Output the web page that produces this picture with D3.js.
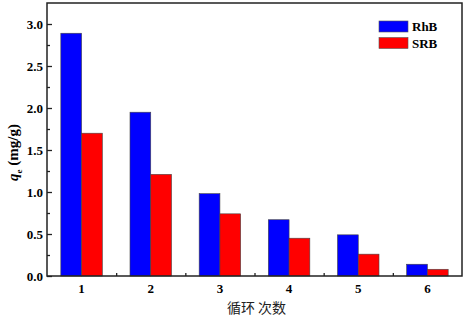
<!DOCTYPE html>
<html>
<head>
<meta charset="utf-8">
<script src="https://cdn.jsdelivr.net/npm/d3@7"></script>
<style>
  body { margin: 0; background: #fff; }
  text { font-family: "Liberation Serif", "Times New Roman", serif; }
</style>
</head>
<body>
<div id="chart"></div>
<script>
const cycles = [1, 2, 3, 4, 5, 6];
const rhb = [2.89, 1.95, 0.98, 0.67, 0.49, 0.14];
const srb = [1.70, 1.21, 0.74, 0.45, 0.26, 0.08];
const seriesNames = ['RhB', 'SRB'];
const seriesColors = ['#0000ff', '#ff0000'];
const yTicks = [0, 0.5, 1.0, 1.5, 2.0, 2.5, 3.0];

const margin = { top: 3, right: 4, bottom: 42, left: 47 };
const width = 466 - margin.left - margin.right;
const height = 318 - margin.top - margin.bottom;

const svg = d3.select('#chart')
    .append('svg')
    .attr('width', 466)
    .attr('height', 318)
    .append('g')
    .attr('transform', `translate(${margin.left},${margin.top})`);

const x = d3.scaleLinear().domain([0.5, 6.5]).range([0, width]);
const y = d3.scaleLinear().domain([0, 3.25]).range([height, 0]);

const barW = x(1.3) - x(1);
const series = [rhb, srb];

// bars
series.forEach((vals, i) => {
  svg.append('g')
    .selectAll('rect')
    .data(vals)
    .join('rect')
    .attr('x', (d, j) => x(cycles[j]) + (i - 1) * barW)
    .attr('y', d => y(d))
    .attr('width', barW)
    .attr('height', d => y(0) - y(d))
    .attr('fill', seriesColors[i])
    .attr('stroke', '#444')
    .attr('stroke-width', 0.6);
});

// axes, ticks pointing inward
const yAxis = d3.axisRight(y).tickValues(yTicks).tickSize(5).tickFormat('');
const yMinor = d3.axisRight(y).tickValues(d3.range(0.25, 3.25, 0.5)).tickSize(3).tickFormat('');
svg.append('g').attr('class', 'ax').call(yAxis);
svg.append('g').attr('class', 'ax').call(yMinor);

const xMinor = d3.axisTop(x).tickValues([1.5, 2.5, 3.5, 4.5, 5.5]).tickSize(3).tickFormat('');
svg.append('g').attr('class', 'ax').attr('transform', `translate(0,${height})`).call(xMinor);

svg.selectAll('.ax .domain').remove();
svg.selectAll('.ax line').attr('stroke', '#222').attr('stroke-width', 1.3);

// frame
svg.append('rect')
    .attr('width', width)
    .attr('height', height)
    .attr('fill', 'none')
    .attr('stroke', '#222')
    .attr('stroke-width', 1.5);

// tick labels
svg.append('g')
  .selectAll('text')
  .data(yTicks)
  .join('text')
  .attr('x', -4)
  .attr('y', d => y(d))
  .attr('dy', '0.35em')
  .attr('text-anchor', 'end')
  .attr('font-size', 13)
  .attr('font-weight', 'bold')
  .text(d => d.toFixed(1));

svg.append('g')
  .selectAll('text')
  .data(cycles)
  .join('text')
  .attr('x', d => x(d))
  .attr('y', height + 17)
  .attr('text-anchor', 'middle')
  .attr('font-size', 13)
  .attr('font-weight', 'bold')
  .text(d => d);

// axis titles
svg.append('text')
  .attr('x', x(3.5) + 2)
  .attr('y', height + 37)
  .attr('text-anchor', 'middle')
  .attr('font-size', 14)
  .style('font-family', '"Noto Sans CJK SC", sans-serif')
  .attr('fill', '#222')
  .text('循环 次数');

const yl = svg.append('text')
  .attr('transform', `translate(${-29},${y(1.47)}) rotate(-90)`)
  .attr('text-anchor', 'middle')
  .attr('font-size', 15)
  .attr('font-weight', 'bold');
yl.append('tspan').attr('font-style', 'italic').text('q');
yl.append('tspan').attr('font-size', 9).attr('dy', 4).text('e');
yl.append('tspan').attr('dy', -4).text(' (mg/g)');

// legend
const legend = svg.append('g').attr('transform', `translate(${332},${18})`);
seriesNames.forEach((name, i) => {
  legend.append('rect')
    .attr('x', 0)
    .attr('y', i * 16.5)
    .attr('width', 29)
    .attr('height', 11)
    .attr('fill', seriesColors[i])
    .attr('stroke', '#555')
    .attr('stroke-width', 0.6);
  legend.append('text')
    .attr('x', 33)
    .attr('y', i * 16.5 + 5.5)
    .attr('dy', '0.35em')
    .attr('font-size', 13)
    .attr('font-weight', 'bold')
    .text(name);
});
</script>
</body>
</html>
